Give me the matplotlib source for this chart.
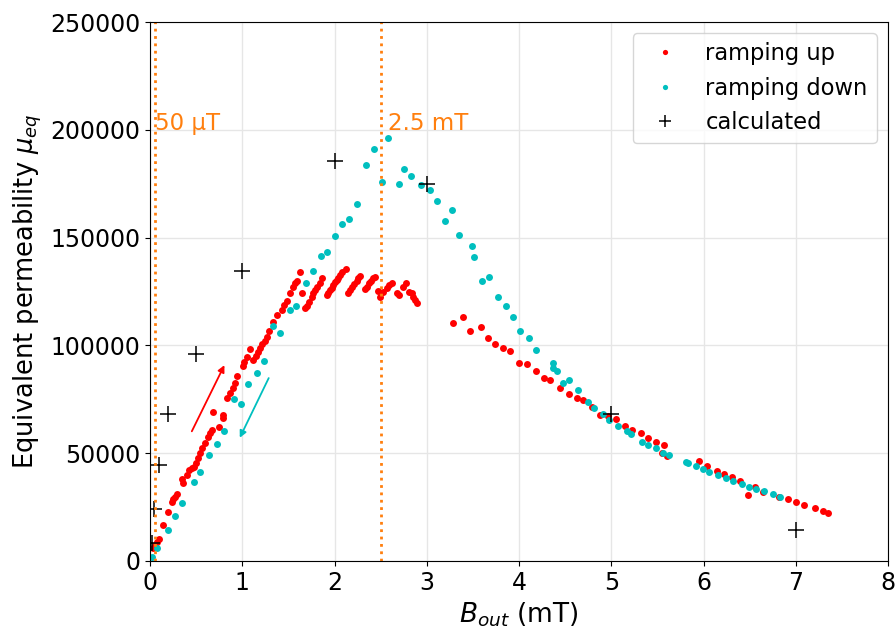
import matplotlib
matplotlib.use("Agg")
import matplotlib.pyplot as plt

# ramping up (red)
up_B = [0.036, 0.054, 0.073, 0.098, 0.144, 0.192, 0.235, 0.253, 0.271, 0.289,
        0.344, 0.361, 0.398, 0.426, 0.452, 0.477, 0.499, 0.524, 0.542, 0.560,
        0.596, 0.632, 0.650, 0.669, 0.686, 0.748, 0.788, 0.795, 0.838, 0.867,
        0.896, 0.921, 0.946, 1.005, 1.022, 1.048, 1.084, 1.120, 1.149, 1.174,
        1.192, 1.217, 1.247, 1.265, 1.293, 1.337, 1.380, 1.428, 1.453, 1.482,
        1.518, 1.547, 1.572, 1.590, 1.626, 1.651, 1.680, 1.699, 1.727, 1.753,
        1.770, 1.789, 1.814, 1.843, 1.868, 1.915, 1.933, 1.951, 1.970, 1.987,
        2.005, 2.024, 2.041, 2.060, 2.085, 2.125, 2.150, 2.168, 2.186, 2.211,
        2.241, 2.258, 2.276, 2.331, 2.349, 2.377, 2.396, 2.421, 2.439, 2.475,
        2.493, 2.529, 2.566, 2.594, 2.627, 2.674, 2.702, 2.746, 2.775, 2.811,
        2.837, 2.854, 2.873, 2.891,
        3.281, 3.390, 3.469, 3.585, 3.661, 3.740, 3.830, 3.903, 4.000, 4.090,
        4.188, 4.271, 4.336, 4.444, 4.542, 4.625, 4.697, 4.788, 4.878, 4.968,
        5.055, 5.149, 5.222, 5.322, 5.402, 5.480, 5.575, 5.546, 5.601, 5.951,
        6.038, 6.150, 6.219, 6.314, 6.396, 6.486, 6.553, 6.648, 6.815, 6.916,
        7.006, 7.089, 7.205, 7.299, 7.353]
up_mu = [5.9, 7.4, 9.0, 10.1, 16.7, 22.6, 27.5, 28.6, 29.8, 31.1,
         37.9, 36.3, 39.9, 42.2, 43.0, 43.5, 45.3, 47.6, 50.0, 52.3,
         54.6, 57.7, 59.2, 60.8, 69.2, 62.3, 66.2, 67.7, 75.5, 77.8,
         80.1, 82.7, 85.8, 90.4, 92.4, 94.8, 98.2, 93.2, 95.1, 97.1,
         98.7, 100.5, 102.2, 103.8, 106.7, 111.0, 114.1, 116.4, 118.7, 120.7,
         124.4, 127.2, 128.8, 130.0, 134.2, 124.4, 117.2, 118.4, 120.3, 122.6,
         124.2, 125.7, 127.2, 129.1, 131.1, 123.4, 124.4, 125.7, 126.8, 128.0,
         129.3, 130.3, 131.4, 132.7, 133.9, 135.3, 124.2, 125.7, 126.9, 128.3,
         129.9, 131.1, 132.2, 126.0, 127.2, 128.8, 130.0, 131.1, 131.9, 125.4,
         122.6, 124.9, 126.5, 128.0, 128.8, 124.2, 123.4, 127.2, 128.8, 124.6,
         124.2, 122.6, 121.1, 119.5,
         110.3, 113.0, 106.8, 108.4, 103.3, 100.6, 98.9, 97.4, 92.0, 91.5,
         88.1, 85.0, 84.0, 80.1, 77.3, 75.5, 74.7, 71.6, 67.7, 67.3,
         65.7, 62.8, 60.9, 59.2, 57.2, 55.1, 53.6, 50.2, 48.7, 46.2,
         44.1, 41.9, 40.4, 39.0, 37.2, 30.6, 34.1, 32.0, 29.7, 28.8,
         27.4, 26.1, 24.4, 23.2, 22.3]

# ramping down (cyan)
down_B = [0.025, 0.073, 0.190, 0.274, 0.352, 0.479, 0.545, 0.640, 0.723, 0.802,
          0.913, 0.984, 1.066, 1.163, 1.239, 1.328, 1.409, 1.518, 1.586, 1.691,
          1.765, 1.854, 1.924, 2.005, 2.078, 2.160, 2.247, 2.338, 2.431, 2.515,
          2.583, 2.699, 2.748, 2.827, 2.936, 3.039, 3.111, 3.198, 3.271, 3.350,
          3.487, 3.516, 3.596, 3.678, 3.776, 3.859, 3.930, 4.008, 4.108, 4.179,
          4.365, 4.372, 4.409, 4.474, 4.542, 4.643, 4.751, 4.813, 4.911, 4.979,
          5.077, 5.174, 5.218, 5.330, 5.402, 5.480, 5.556, 5.629, 5.814, 5.835,
          5.919, 5.995, 6.063, 6.160, 6.244, 6.323, 6.417, 6.497, 6.572, 6.658,
          6.750, 6.829]
down_mu = [1.9, 5.9, 14.4, 21.0, 26.9, 36.5, 41.3, 49.2, 54.2, 60.1,
           75.1, 72.9, 82.0, 87.4, 92.7, 109.0, 105.9, 116.2, 118.3, 128.9,
           134.6, 141.5, 143.2, 150.7, 156.2, 158.8, 165.4, 183.5, 191.1, 175.7,
           196.1, 175.0, 181.7, 178.7, 174.4, 172.1, 167.1, 157.7, 162.8, 151.2,
           146.1, 141.1, 129.9, 131.9, 122.6, 118.5, 113.3, 106.7, 103.3, 97.9,
           91.7, 89.4, 88.1, 82.7, 84.0, 79.1, 73.9, 70.8, 68.4, 65.6,
           62.6, 60.5, 59.1, 55.3, 53.9, 52.4, 50.2, 49.1, 45.8, 45.3,
           44.2, 42.6, 41.1, 39.9, 38.4, 37.2, 35.7, 34.5, 33.5, 32.3,
           31.0, 29.8]

# calculated
calc_B = [0.02, 0.04, 0.1, 0.2, 0.5, 1, 2, 3, 5, 7]
calc_mu = [8.2, 24.0, 44.5, 68.0, 96.0, 134.5, 185.5, 175.0, 68.0, 14.5]

up_mu = [v * 1000 for v in up_mu]
down_mu = [v * 1000 for v in down_mu]
calc_mu = [v * 1000 for v in calc_mu]

fig = plt.figure(figsize=(8.96, 6.3), dpi=100)
ax = fig.add_axes([150 / 896, 1 - 561 / 630, 738 / 896, 539 / 630])

ax.plot(up_B, up_mu, 'o', color='r', ms=5, mew=0, label='ramping up')
ax.plot(down_B, down_mu, 'o', color='c', ms=5, mew=0, label='ramping down')
ax.plot(calc_B, calc_mu, '+', color='black', ms=12, mew=1.1, label='calculated')

ax.axvline(0.05, color='tab:orange', ls=':', lw=2)
ax.axvline(2.5, color='tab:orange', ls=':', lw=2)
ax.text(0.05, 203000, '50 µT', color='tab:orange', fontsize=16.5, va='center')
ax.text(2.58, 203000, '2.5 mT', color='tab:orange', fontsize=16.5, va='center')

ax.annotate('', xy=(0.82, 92000), xytext=(0.44, 59000),
            arrowprops=dict(arrowstyle='-|>', color='r', lw=1.3, mutation_scale=10))
ax.annotate('', xy=(0.96, 56000), xytext=(1.3, 86000),
            arrowprops=dict(arrowstyle='-|>', color='c', lw=1.3, mutation_scale=10))

ax.set_xlim(0, 8)
ax.set_ylim(0, 250000)
ax.set_xticks(range(0, 9))
ax.set_yticks(range(0, 250001, 50000))
ax.tick_params(labelsize=17)
ax.grid(True, color='#e6e6e6', lw=1)
ax.set_axisbelow(True)
ax.set_xlabel(r'$B_{out}$ (mT)', fontsize=19)
ax.set_ylabel(r'Equivalent permeability $\mu_{eq}$', fontsize=18.5)
ax.legend(loc='upper right', fontsize=16.3, markerscale=0.75)

fig.savefig('out.png', dpi=100)
